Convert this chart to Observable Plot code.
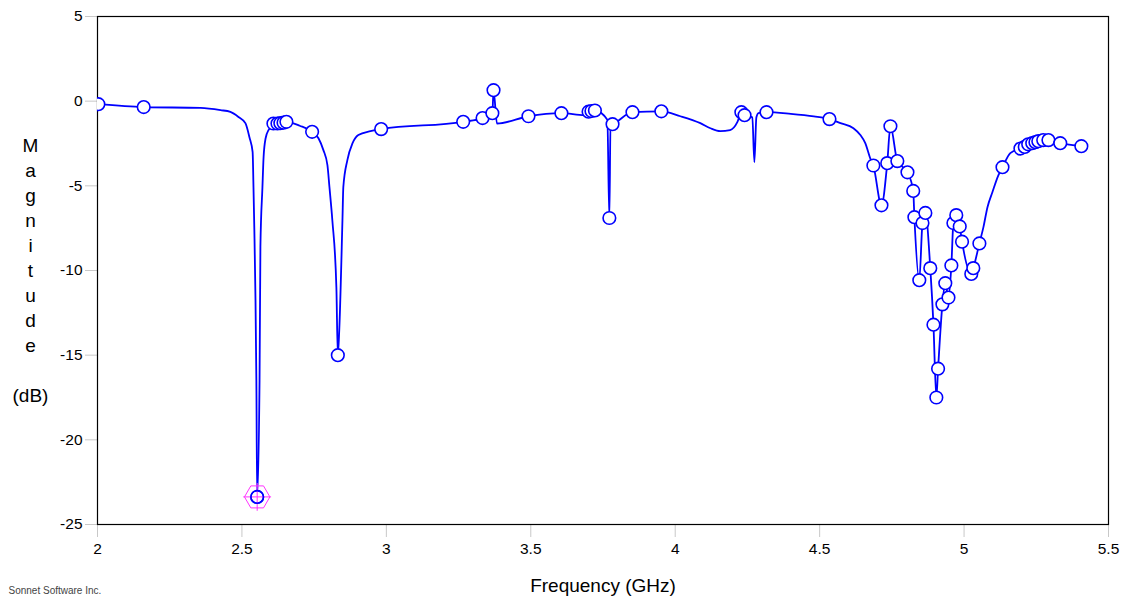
<!DOCTYPE html>
<html>
<head>
<meta charset="utf-8">
<script src="https://cdn.jsdelivr.net/npm/d3@7"></script>
<script src="https://cdn.jsdelivr.net/npm/@observablehq/plot@0.6"></script>
<style>
  html, body { margin: 0; padding: 0; background: #fff; }
  #chart svg { display: block; }
</style>
</head>
<body>
<div id="chart"></div>
<script>
// Interpolated response curve (frequency in GHz, magnitude in dB)
const lineFreq = [
  2.003, 2.16, 2.357, 2.426, 2.46, 2.488, 2.512, 2.526, 2.537, 2.54, 2.543, 2.547, 2.55, 2.5528,
  2.561, 2.564, 2.571, 2.575, 2.582, 2.592, 2.609, 2.623, 2.633, 2.644, 2.654, 2.70, 2.743,
  2.765, 2.782, 2.796, 2.803, 2.813, 2.827, 2.832, 2.837, 2.848, 2.851, 2.865, 2.883, 2.903, 2.945, 2.982,
  3.266, 3.333, 3.367, 3.371, 3.383, 3.492, 3.606, 3.685, 3.70, 3.71, 3.722, 3.765, 3.772, 3.776, 3.783,
  3.852, 3.952, 4.018, 4.087, 4.122, 4.156, 4.19, 4.215, 4.229, 4.24, 4.267, 4.274, 4.281, 4.288, 4.316,
  4.4, 4.48, 4.534, 4.572, 4.617, 4.641, 4.658, 4.675,
  4.686, 4.714, 4.734, 4.745, 4.769, 4.804, 4.824, 4.828, 4.845, 4.856, 4.866, 4.883, 4.894, 4.904,
  4.91, 4.925, 4.935, 4.946, 4.956, 4.963, 4.973, 4.985, 4.993, 5.025, 5.032, 5.053,
  5.067, 5.081, 5.098, 5.119, 5.133, 5.16, 5.195, 5.21, 5.222, 5.236, 5.247, 5.257, 5.274, 5.292, 5.333, 5.406
];
const lineDb = [
  -0.18, -0.35, -0.4, -0.53, -0.63, -0.93, -1.3, -2.13, -3.0, -5.08, -7.6, -11.75, -16.5, -23.37,
  -16.5, -8.6, -5.08, -3.3, -2.19, -1.71, -1.45, -1.32, -1.3, -1.27, -1.22, -1.45, -1.81,
  -2.19, -2.89, -3.78, -5.08, -7.03, -11.0, -15.0, -13.5, -7.03, -5.08, -3.48, -2.48, -2.0, -1.77, -1.65,
  -1.22, -1.0, -0.71, 0.65, -1.32, -0.89, -0.71, -0.83, -0.62, -0.58, -0.55, -1.1, -6.9, -1.4, -1.36,
  -0.65, -0.6, -0.89, -1.3, -1.6, -1.77, -1.71, -1.24, -0.65, -0.83, -0.95, -3.6, -0.95, -0.7, -0.65,
  -0.75, -0.9, -1.06, -1.3, -1.6, -2.0, -2.48, -3.37,
  -3.8, -6.15, -3.66, -1.48, -3.54, -4.2, -5.3, -6.85, -10.57, -7.2, -6.6, -9.86, -13.2, -17.5,
  -15.8, -12.0, -10.75, -11.6, -9.7, -7.2, -6.73, -7.4, -8.3, -10.2, -9.86, -8.4,
  -7.44, -6.26, -5.38, -4.37, -3.9, -3.07, -2.8, -2.7, -2.55, -2.48, -2.42, -2.36, -2.3, -2.3, -2.48, -2.66
];

// Simulated (marked) frequency points
const markFreq = [
  2.003, 2.16, 2.5528, 2.609, 2.623, 2.633, 2.644, 2.654, 2.743, 2.832, 2.982,
  3.266, 3.333, 3.367, 3.371, 3.492, 3.606, 3.70, 3.71, 3.722, 3.772, 3.783, 3.852, 3.952,
  4.229, 4.24, 4.316, 4.534,
  4.686, 4.714, 4.734, 4.745, 4.769, 4.804, 4.824, 4.828, 4.845, 4.856, 4.866, 4.883, 4.894, 4.904,
  4.91, 4.925, 4.935, 4.946, 4.956, 4.963, 4.973, 4.985, 4.993, 5.025, 5.032, 5.053,
  5.133, 5.195, 5.21, 5.222, 5.236, 5.247, 5.257, 5.274, 5.292, 5.333, 5.406
];
const markDb = [
  -0.18, -0.35, -23.37, -1.32, -1.32, -1.3, -1.27, -1.22, -1.81, -15.0, -1.65,
  -1.22, -1.0, -0.71, 0.65, -0.89, -0.71, -0.62, -0.58, -0.55, -6.9, -1.36, -0.65, -0.6,
  -0.65, -0.83, -0.65, -1.06,
  -3.8, -6.15, -3.66, -1.48, -3.54, -4.2, -5.3, -6.85, -10.57, -7.2, -6.6, -9.86, -13.2, -17.5,
  -15.8, -12.0, -10.75, -11.6, -9.7, -7.2, -6.73, -7.4, -8.3, -10.2, -9.86, -8.4,
  -3.9, -2.8, -2.7, -2.55, -2.48, -2.42, -2.36, -2.3, -2.3, -2.48, -2.66
];

// Readout marker
const readoutFreq = [2.5528];
const readoutDb = [-23.37];

const xTicks = [2, 2.5, 3, 3.5, 4, 4.5, 5, 5.5];
const yTicks = [5, 0, -5, -10, -15, -20, -25];

const lineData = lineFreq.map((f, i) => ({f, db: lineDb[i]}));
const markData = markFreq.map((f, i) => ({f, db: markDb[i]}));
const readData = readoutFreq.map((f, i) => ({f, db: readoutDb[i]}));

const font = "'Liberation Sans', Arial, sans-serif";

const chart = Plot.plot({
  width: 1124,
  height: 596,
  marginLeft: 97,
  marginRight: 16,
  marginTop: 16,
  marginBottom: 72,
  style: {fontFamily: font, color: "#000", background: "#fff", fontSize: "15px"},
  x: {domain: [2, 5.5]},
  y: {domain: [-25, 5]},
  marks: [
    Plot.axisX({ticks: xTicks, tickSize: 13, tickPadding: 5, stroke: "#c8c8c8", fill: "#000",
      tickFormat: d => String(d), label: null, fontSize: 15.5}),
    Plot.axisY({ticks: yTicks, tickSize: 12, tickPadding: 3, stroke: "#c8c8c8", fill: "#000",
      tickFormat: d => String(d), label: null, fontSize: 15.5}),
    Plot.frame({stroke: "#000", strokeWidth: 1.2}),
    Plot.line(lineData, {x: "f", y: "db", stroke: "#0000ff", strokeWidth: 1.8, curve: "monotone-x", clip: true}),
    Plot.dot(markData, {x: "f", y: "db", r: 6.3, stroke: "#0000ff", fill: "#fff", strokeWidth: 1.6, clip: true}),
    Plot.dot(readData, {x: "f", y: "db", symbol: "hexagon", r: 11, rotate: 90, stroke: "#ff33ff", fill: "none", strokeWidth: 1}),
    Plot.dot(readData, {x: "f", y: "db", symbol: "plus", r: 9, stroke: "#ff33ff", strokeWidth: 1}),
    Plot.dot(readData, {x: "f", y: "db", r: 6.3, stroke: "#0000ff", fill: "none", strokeWidth: 1.6}),
    Plot.text(["M\na\ng\nn\ni\nt\nu\nd\ne\n\n(dB)"], {
      frameAnchor: "left", dx: -67, dy: -2, text: d => d, textAnchor: "middle",
      lineAnchor: "middle", lineHeight: 25 / 19, fontSize: 19, fill: "#000"
    }),
    Plot.text(["Frequency (GHz)"], {
      frameAnchor: "bottom", dy: 67, text: d => d, fontSize: 19, fill: "#000"
    }),
    Plot.text(["Sonnet Software Inc."], {
      frameAnchor: "bottom-left", dx: -89, dy: 69, text: d => d, textAnchor: "start",
      fontSize: 10, fill: "#444"
    })
  ]
});
document.getElementById("chart").appendChild(chart);
</script>
</body>
</html>
